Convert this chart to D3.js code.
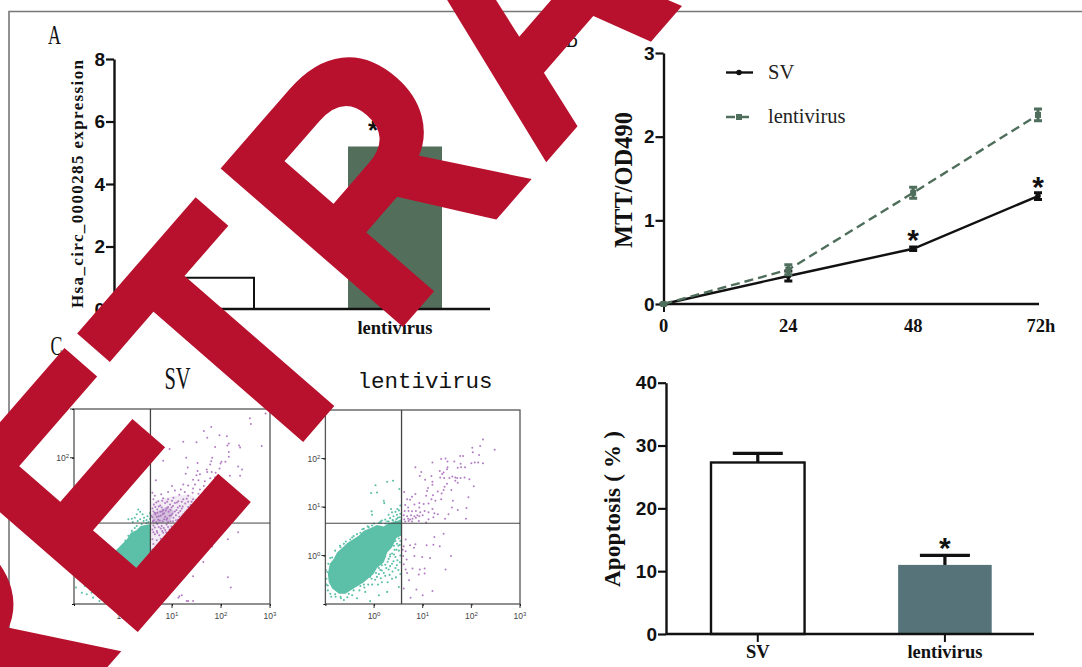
<!DOCTYPE html>
<html>
<head>
<meta charset="utf-8">
<title>Retracted figure</title>
<script src="https://cdnjs.cloudflare.com/ajax/libs/d3/7.8.5/d3.min.js"></script>
<style>
	html, body { margin: 0; padding: 0; background: #fff; overflow: hidden; }
	svg { display: block; }
	.domain, .tick line { stroke: #111; }
</style>
</head>
<body>
<div id="chart"></div>
<script>
"use strict";

// panel A
var expressionCategories = ["SV", "lentivirus"];
var expressionValues = [1, 5.2];
var expressionTicks = [0, 2, 4, 6, 8];

// panel B
var mttHours = [0, 24, 48, 72];
var mttSv = [0, 0.335, 0.66, 1.29];
var mttSvErr = [0, 0.06, 0.02, 0.04];
var mttLenti = [0, 0.41, 1.33, 2.26];
var mttLentiErr = [0, 0.06, 0.065, 0.07];
var mttTicks = [0, 1, 2, 3];
var mttStars = [[48, 0.66], [72, 1.29]];

// panel D
var apoptosisCategories = ["SV", "lentivirus"];
var apoptosisValues = [27.3, 11];
var apoptosisErrors = [1.45, 1.5];
var apoptosisTicks = [0, 10, 20, 30, 40];

var svGate = [0.56, 0.66];
var lentiGate = [0.565, 0.665];

var svDense = [[0.57, 0.64], [0.45, 0.62], [0.36, 0.6], [0.28, 0.52], [0.16, 0.46], [0.08, 0.33], [-0.15, 0.1], [-0.05, -0.3], [0.3, -0.4], [0.57, -0.2]];
var svPurpleCloud = [[0.58, 1.1], [0.95, 1.2], [1.35, 1.25], [1.6, 1.1], [1.45, 0.85], [1.2, 0.68], [1.0, 0.45], [0.85, 0.15], [0.6, -0.1], [0.58, 0.6]];
var svPurpleCore = [[0.6, 0.85], [0.9, 1.0], [1.05, 0.9], [0.95, 0.68], [0.6, 0.64]];
var svTeal = [[0.35, 0.89], [0.28, 0.84], [0.4, 0.84], [0.24, 0.77], [0.48, 0.72], [0.11, 0.74], [0.35, 0.74], [0.55, 0.75], [0.18, 0.75], [0.43, 0.77], [0.55, 0.86], [0.31, 0.94], [0.5, 0.8], [0.3, 0.7], [0.42, 0.7], [0.52, 0.68], [0.2, 0.68],
	[0.24, 0.56], [0.18, 0.5], [0.11, 0.4], [0.28, 0.6], [0.38, 0.64], [0.48, 0.66], [0.05, 0.3], [0.02, 0.22],
	[-0.93, -0.36], [-0.88, -0.44], [-0.96, -0.66], [-0.81, -0.49], [-0.78, -0.63], [-0.71, -0.55], [-0.67, -0.7], [-0.61, -0.64], [-0.64, -0.77], [-0.55, -0.73], [-0.5, -0.82], [-0.46, -0.7], [-0.4, -0.87], [-0.35, -0.77], [-0.3, -0.94], [-0.23, -0.9], [-0.74, -0.8], [-0.84, -0.77], [-0.61, -0.87], [-0.48, -0.94], [-0.37, -0.97], [-0.2, -0.97], [-0.91, -0.25], [-0.98, -0.19], [-0.67, -0.59], [-0.57, -0.56], [-0.52, -0.66], [-0.44, -0.78], [-0.27, -0.82], [-0.13, -0.96]];
var svPurple = [[2.91, 2.91], [2.59, 2.81], [2.61, 2.69], [1.8, 2.63], [1.65, 2.55], [1.97, 2.46], [2.12, 2.44], [1.72, 2.41], [1.23, 2.33], [1.5, 2.32], [2.16, 2.29], [2.13, 2.25], [2.37, 2.25], [1.88, 2.22], [2.39, 2.21], [2.83, 2.24], [0.95, 2.18], [2.16, 2.12], [2.16, 2.02], [1.29, 2], [1.82, 2], [0.82, 1.94], [1.8, 1.93], [2.01, 1.92], [2.09, 1.92], [1.52, 1.89], [1.78, 1.86], [1.99, 1.88], [2.35, 1.82], [2.43, 1.76], [1.32, 1.8], [1.71, 1.76], [1.97, 1.78], [1.52, 1.73], [1.72, 1.71], [1.81, 1.71], [1.89, 1.69], [1.28, 1.67], [1.57, 1.66], [2.18, 1.63], [2.39, 1.63], [1.88, 1.6], [1.5, 1.64], [1.43, 1.55], [1.54, 1.54], [1.67, 1.52], [1.78, 1.58], [0.67, 1.54], [1.93, 1.54], [1.23, 1.45], [1.33, 1.43], [1.47, 1.45], [1.65, 1.42], [1.78, 1.45], [1, 1.42], [1.43, 1.37], [1.57, 1.35], [1.18, 1.35], [1.67, 1.33], [1.06, 1.33], [0.6, 1.28], [0.92, 1.3], [1.26, 1.3], [1.42, 1.28], [1.54, 1.26], [0.78, 1.25], [0.65, 1.22], [1.15, 1.24], [1.33, 1.22], [1.67, 1.22],
	[0.62, 1.15], [0.72, 1.11], [0.82, 1.17], [0.92, 1.15], [1.03, 1.18], [1.13, 1.11], [1.23, 1.15], [1.33, 1.1], [1.43, 1.15], [1.56, 1.11],
	[0.63, 1.04], [0.76, 1.02], [0.86, 1.07], [0.96, 1.04], [1.06, 1.07], [1.16, 1.01], [1.27, 1.06], [1.38, 1.03], [1.49, 1.06], [1.61, 1.01],
	[0.6, 0.96], [0.7, 0.94], [0.79, 0.98], [0.89, 0.96], [0.99, 0.98], [1.09, 0.93], [1.2, 0.96], [1.3, 0.92], [1.42, 0.96], [1.54, 0.91],
	[0.65, 0.87], [0.76, 0.89], [0.84, 0.86], [0.93, 0.89], [1.01, 0.85], [1.13, 0.87], [1.23, 0.84], [1.35, 0.87],
	[0.58, 0.81], [0.69, 0.79], [0.77, 0.81], [0.86, 0.79], [0.95, 0.81], [1.03, 0.77], [1.15, 0.79], [1.27, 0.76], [1.38, 0.79],
	[0.63, 0.72], [0.72, 0.73], [0.81, 0.7], [0.89, 0.73], [0.97, 0.7], [1.08, 0.72], [1.2, 0.69], [1.3, 0.72],
	[0.62, 0.61], [0.7, 0.64], [0.79, 0.6], [0.89, 0.63], [0.99, 0.59], [1.1, 0.64], [1.2, 0.61],
	[0.6, 0.53], [0.69, 0.5], [0.77, 0.55], [0.86, 0.52], [0.95, 0.53], [1.03, 0.48], [1.11, 0.55],
	[0.65, 0.43], [0.74, 0.41], [0.82, 0.46], [0.9, 0.43], [0.99, 0.43], [0.6, 0.33], [0.69, 0.31], [0.77, 0.34], [0.86, 0.29], [0.93, 0.33],
	[0.62, 0.23], [0.7, 0.2], [0.79, 0.23], [0.86, 0.18], [0.6, 0.12], [0.67, 0.09], [0.75, 0.11], [0.62, 0.02], [0.7, 0], [0.63, -0.08],
	[2.14, -0.45], [2.2, -0.66], [1.43, -0.43], [1.64, -0.14], [2.14, 0.33], [2.35, 0.47], [1.15, -0.84], [1.33, -0.94], [1.43, -0.94], [1.82, 0.18], [1.13, -0.87], [1.2, -0.82], [1.3, -0.94],
	[0.68, 1.08], [0.8, 1.12], [0.9, 1.1], [1.0, 1.12], [1.1, 1.08], [1.2, 1.1], [1.3, 1.16], [1.4, 1.1], [1.5, 1.14], [0.66, 0.99], [0.73, 1.0], [0.82, 0.93], [0.92, 0.99], [1.02, 1.01], [1.12, 0.98], [1.22, 1.0], [1.33, 0.99], [1.46, 1.0], [0.62, 0.9], [0.7, 0.87], [0.8, 0.9], [0.87, 0.92], [0.97, 0.93], [1.06, 0.9], [1.17, 0.91], [1.27, 0.88], [1.4, 0.9], [0.6, 0.78], [0.66, 0.84], [0.73, 0.8], [0.81, 0.84], [0.9, 0.76], [0.98, 0.82], [1.08, 0.82], [1.2, 0.8], [0.61, 0.7], [0.68, 0.68], [0.75, 0.71], [0.84, 0.74], [0.92, 0.68], [1.02, 0.7], [1.12, 0.73], [0.65, 0.57], [0.73, 0.58], [0.83, 0.56], [0.92, 0.58], [1.05, 0.56], [0.62, 0.47], [0.7, 0.46], [0.8, 0.5], [0.88, 0.47], [0.97, 0.48]];

var lentiDense = [[-0.95, -0.38], [-0.91, -0.17], [-0.83, -0.07], [-0.76, 0.06], [-0.64, 0.17], [-0.55, 0.26], [-0.42, 0.34], [-0.31, 0.41], [-0.21, 0.51], [-0.08, 0.56], [0.06, 0.63], [0.2, 0.6], [0.3, 0.67], [0.44, 0.7], [0.56, 0.74], [0.56, 0.41], [0.46, 0.36], [0.37, 0.17], [0.27, 0.06], [0.2, -0.14], [0.06, -0.26], [-0.01, -0.38], [-0.21, -0.55], [-0.42, -0.68], [-0.59, -0.79], [-0.72, -0.79], [-0.86, -0.68], [-0.93, -0.55]];
var lentiTeal = [[0.03, 1.45], [0.39, 1.54], [-0.06, 1.29], [0.06, 1.3], [0.2, 1.13], [0.21, 1.08], [-0.05, 0.91], [-0.04, 0.84], [0.27, 1.52], [0.52, 1.37],
	[0.54, 1.03], [0.51, 0.93], [0.44, 0.9], [0.37, 0.89], [0.3, 0.84], [0.54, 0.86], [0.47, 0.84], [0.4, 0.81], [0.33, 0.77], [0.23, 0.74], [0.16, 0.72], [0.53, 0.79], [0.46, 0.75], [0.39, 0.72], [0.3, 0.7], [0.54, 0.72], [0.13, 0.7], [0.44, 0.7], [0.48, 0.96], [0.35, 0.96],
	[0.51, 0.35], [0.44, 0.3], [0.54, 0.3], [0.47, 0.24], [0.41, 0.2], [0.53, 0.22], [0.42, 0.12], [0.33, 0.02], [0.51, 0.1], [0.37, 0.04], [0.23, -0.02], [0.54, 0], [0.44, -0.03], [0.3, -0.07], [0.16, -0.2], [0.53, -0.14], [0.37, -0.17], [0.23, -0.19], [0.1, -0.26], [0.44, -0.26], [0.3, -0.29], [0.16, -0.31], [0.04, -0.36], [0.54, -0.38], [0.23, -0.42], [0.06, -0.44], [-0.08, -0.44], [0.37, -0.48], [-0.21, -0.6], [0.16, -0.55], [-0.04, -0.6], [-0.28, -0.63], [0.51, -0.65], [-0.42, -0.72], [-0.18, -0.75], [-0.52, -0.79], [-0.69, -0.85], [-0.79, -0.85], [-0.35, -0.88], [-0.9, -0.79], [0.27, -0.75], [0.1, -0.82], [-0.62, -0.92], [-0.08, -0.94],
	[-0.98, -0.48], [-0.95, -0.62], [-0.96, -0.34], [-0.94, -0.17], [-0.86, -0.04], [-0.62, 0.24], [-0.49, 0.33], [-0.28, 0.47], [-0.11, 0.58], [0.1, 0.67], [0.23, 0.66], [-0.69, 0.17], [-0.42, 0.4], [-0.21, 0.55], [-0.04, 0.62],
	[0.5, 0.2], [0.46, 0.12], [0.41, 0.02], [0.33, -0.02], [0.48, -0.1], [0.4, -0.12], [0.28, -0.13], [0.33, -0.22], [0.47, -0.2], [0.25, -0.26], [0.13, -0.3], [0.38, -0.33], [0.2, -0.36], [0.1, -0.38], [0.5, -0.3], [0.32, -0.4], [0.14, -0.47], [0.02, -0.5], [-0.05, -0.48], [0.45, -0.45], [0.28, -0.55], [0.08, -0.6], [-0.12, -0.6], [-0.2, -0.66], [-0.3, -0.72], [-0.45, -0.82], [-0.55, -0.86], [-0.68, -0.88], [-0.8, -0.8], [-0.88, -0.85], [-0.95, -0.72], [-0.98, -0.6], [-0.99, -0.3], [-0.9, -0.05], [-0.8, 0.1], [-0.7, 0.2], [-0.58, 0.29], [-0.45, 0.37], [-0.35, 0.44], [-0.24, 0.54], [-0.13, 0.6], [0, 0.66], [0.14, 0.67], [0.27, 0.7], [0.38, 0.73], [0.49, 0.78]];
var lentiPurple = [[2.24, 2.39], [2.18, 2.26], [2.02, 2.22], [2.03, 2.13], [2.48, 2.18], [2.16, 2.07], [1.77, 2.05], [1.83, 2.05], [1.38, 1.99], [1.47, 2], [1.51, 1.94], [1.65, 1.94], [1.2, 1.92], [2, 1.9], [2.07, 1.92], [2.14, 1.92], [2.24, 1.9], [1.78, 1.89], [0.85, 1.82], [1.72, 1.81], [1.79, 1.82], [1.87, 1.82], [1.51, 1.82], [1.5, 1.78], [1.35, 1.74], [1.43, 1.71], [1.4, 1.68], [0.97, 1.72], [0.94, 1.64], [1.18, 1.64], [1.36, 1.61], [1.44, 1.6], [1.55, 1.6], [1.61, 1.63], [1.67, 1.61], [1.71, 1.6], [1.78, 1.6], [1.86, 1.61], [1.96, 1.57], [1.05, 1.56], [1.2, 1.52], [1.67, 1.54], [1.72, 1.5], [1.2, 1.46], [1.5, 1.48], [1.45, 1.42], [2.05, 1.43], [1.11, 1.39], [1.09, 1.33], [1.31, 1.32], [1.39, 1.28], [1.43, 1.35], [1.59, 1.35], [0.62, 1.31], [0.85, 1.27], [1.07, 1.23], [1.21, 1.24], [1.94, 1.2], [0.78, 1.21], [0.68, 1.16], [0.74, 1.15], [1.18, 1.16], [1.26, 1.13], [1.38, 1.16], [1.62, 1.13], [0.93, 1.08], [1.02, 1.06], [1.12, 1.07], [0.64, 1.04], [0.83, 1.05], [1.6, 0.99], [1.9, 0.98], [1.72, 0.94], [0.7, 0.99], [1.2, 0.96], [0.93, 0.99],
	[0.63, 0.92], [0.71, 0.92], [0.78, 0.91], [0.86, 0.92], [0.95, 0.89], [1.04, 0.92], [1.12, 0.89], [1.24, 0.87], [1.31, 0.85], [1.53, 0.85], [0.61, 0.83], [0.68, 0.81], [0.76, 0.83], [0.83, 0.81], [0.89, 0.83], [0.93, 0.81], [1, 0.83], [1.22, 0.79], [1.46, 0.76], [1.89, 0.76], [0.62, 0.75], [0.7, 0.76], [0.74, 0.74], [0.79, 0.76], [0.86, 0.78], [1.12, 0.75], [0.64, 0.7], [0.71, 0.71], [0.78, 0.7], [0.92, 0.71], [1.07, 0.68],
	[1.43, 0.45], [1.24, 0.38], [1.35, 0.19], [1.22, 0.22], [1.08, 0.21], [0.85, 0.23], [0.74, 0.21], [0.65, 0.33], [0.61, 0.19], [0.65, 0.09], [0.83, -0.01], [0.99, -0.03], [1.15, -0.05], [1.58, -0.01], [1.47, -0.29], [1.04, -0.27], [0.94, -0.29], [0.79, -0.27], [0.68, -0.36], [0.61, -0.18], [1.04, -0.37], [0.92, -0.39], [0.72, -0.51], [0.61, -0.68], [0.87, -0.7], [1.2, -0.73], [1, -0.82], [0.75, -0.87], [0.65, -0.29], [0.67, -0.08], [0.59, 0.12], [0.6, -0.01], [0.82, 0.16]];

var flowDecades = [-1, 0, 1, 2, 3];

var serif = "'Liberation Serif', serif";
var sans = "'Liberation Sans', sans-serif";
var mono = "'Liberation Mono', monospace";
var red = "#b8112e";
var purple = "#a565b8";
var teal = "#5cbfa8";

var svg = d3.select("#chart").append("svg")
	.attr("width", 1082)
	.attr("height", 667);

// the frame round the figure
svg.append("path")
	.attr("d", "M9,667V11.5H1082")
	.attr("fill", "none")
	.attr("stroke", "#777")
	.attr("stroke-width", 1.6);

function label(x, y, text, family, size, weight, rotate) {
	return svg.append("text")
		.attr("transform", "translate(" + x + "," + y + ")" + (rotate ? " rotate(" + rotate + ")" : ""))
		.attr("text-anchor", "middle")
		.attr("font-family", family)
		.attr("font-size", size)
		.attr("font-weight", weight || "normal")
		.attr("fill", "#111")
		.text(text);
}

// the narrow serif used for panel letters, squeezed Liberation Serif is the nearest thing
function narrowLabel(x, y, text, size) {
	svg.append("text")
		.attr("transform", "translate(" + x + "," + y + ") scale(0.66,1)")
		.attr("text-anchor", "middle")
		.attr("font-family", serif)
		.attr("font-size", size)
		.attr("fill", "#111")
		.text(text);
}

// y axis + baseline, shared by the three graph panels
function leftAxis(y, x, ticks) {
	var g = svg.append("g")
		.attr("transform", "translate(" + x + ",0)")
		.call(d3.axisLeft(y).tickValues(ticks).tickFormat(d3.format("d")).tickSize(8).tickSizeOuter(0).tickPadding(1));
	g.select(".domain").attr("stroke-width", 2.4);
	g.selectAll(".tick line").attr("stroke-width", 2.2);
	g.selectAll(".tick text")
		.attr("font-family", sans)
		.attr("font-size", 19)
		.attr("font-weight", "bold")
		.attr("fill", "#111");
	return g;
}

function baseline(x0, x1, y) {
	svg.append("line")
		.attr("x1", x0).attr("x2", x1)
		.attr("y1", y).attr("y2", y)
		.attr("stroke", "#111")
		.attr("stroke-width", 2.4);
}

function errorBar(x, yLow, yHigh, halfCap, color, width) {
	svg.append("path")
		.attr("d", "M" + x + "," + yLow + "V" + yHigh + "M" + (x - halfCap) + "," + yHigh + "H" + (x + halfCap))
		.attr("stroke", color)
		.attr("stroke-width", width)
		.attr("fill", "none");
}

/* ---- A ---- */
narrowLabel(54.5, 44, "A", 27);
var yA = d3.scaleLinear().domain([0, 8]).range([309, 59]);
var xA = d3.scaleBand().domain(expressionCategories).range([160, 442]).paddingInner(0.5);
svg.selectAll(".barA")
	.data(expressionValues)
	.enter().append("rect")
	.attr("x", function (d, i) { return xA(expressionCategories[i]); })
	.attr("y", function (d) { return yA(d); })
	.attr("width", xA.bandwidth())
	.attr("height", function (d) { return yA(0) - yA(d); })
	.attr("fill", function (d, i) { return i ? "#546e5c" : "#fff"; })
	.attr("stroke", function (d, i) { return i ? "none" : "#111"; })
	.attr("stroke-width", 2);
leftAxis(yA, 114, expressionTicks);
baseline(114, 490, 309);
label(83, 184, "Hsa_circ_0000285 expression", serif, 17, "bold", -90).attr("textLength", 248);
label(xA("lentivirus") + xA.bandwidth() / 2, 334, "lentivirus", serif, 18.5, "bold");
label(xA("SV") + xA.bandwidth() / 2, 334, "SV", serif, 18.5, "bold");
label(373, 139, "*", sans, 26, "bold");
narrowLabel(572, 47, "B", 27);

/* ---- B ---- */
var xB = d3.scaleLinear().domain([0, 72]).range([663.5, 1038]);
var yB = d3.scaleLinear().domain([0, 3]).range([304, 53]);
leftAxis(yB, 663.5, mttTicks);
baseline(663.5, 1039, 304);

var bottomB = svg.append("g")
	.attr("transform", "translate(0,304)")
	.call(d3.axisBottom(xB).tickValues([0]).tickSize(8).tickSizeOuter(0).tickFormat(""));
bottomB.select(".domain").remove();
bottomB.selectAll(".tick line").attr("stroke-width", 2);
mttHours.forEach(function (h) {
	label(xB(h) + (h === 72 ? 3 : 0), 332, h === 72 ? "72h" : h, serif, 18.5, "bold");
});
label(632, 180, "MTT/OD490", serif, 24.5, "bold", -90);

var lineB = d3.line()
	.x(function (d, i) { return xB(mttHours[i]); })
	.y(function (d) { return yB(d); });

function mttMarker(x, y, color, square) {
	if (square) {
		svg.append("rect").attr("x", x - 3).attr("y", y - 3).attr("width", 6).attr("height", 6).attr("fill", color);
	} else {
		svg.append("circle").attr("cx", x).attr("cy", y).attr("r", 2.8).attr("fill", color);
	}
}

function mttSeries(values, errs, color, dash, square) {
	svg.append("path")
		.attr("d", lineB(values))
		.attr("fill", "none")
		.attr("stroke", color)
		.attr("stroke-width", 2.4)
		.attr("stroke-dasharray", dash);
	values.forEach(function (v, i) {
		var x = xB(mttHours[i]);
		svg.append("path")
			.attr("d", "M" + x + "," + yB(v - errs[i]) + "V" + yB(v + errs[i])
				+ "M" + (x - 4) + "," + yB(v - errs[i]) + "H" + (x + 4)
				+ "M" + (x - 4) + "," + yB(v + errs[i]) + "H" + (x + 4))
			.attr("stroke", color)
			.attr("stroke-width", 3)
			.attr("fill", "none");
		mttMarker(x, yB(v), color, square);
	});
}
mttSeries(mttSv, mttSvErr, "#111", null, false);
mttSeries(mttLenti, mttLentiErr, "#4f6f5c", "9,5", true);

mttStars.forEach(function (s) {
	label(xB(s[0]), yB(s[1]) + 1, "*", sans, 30, "bold");
});

// legend
var legend = [["SV", "#111", null, 72.5, false], ["lentivirus", "#4f6f5c", "9,5", 117, true]];
legend.forEach(function (l) {
	svg.append("line")
		.attr("x1", 726).attr("x2", 753).attr("y1", l[3]).attr("y2", l[3])
		.attr("stroke", l[1]).attr("stroke-width", 2.4).attr("stroke-dasharray", l[2]);
	mttMarker(739, l[3], l[1], l[4]);
	svg.append("text")
		.attr("x", 768).attr("y", l[3] + 6)
		.attr("font-family", serif)
		.attr("font-size", 20.5)
		.attr("fill", "#222")
		.text(l[0]);
});

/* ---- C ---- */
narrowLabel(56.5, 355, "C", 27);
narrowLabel(177.5, 389, "SV", 31);
label(425, 388, "lentivirus", mono, 22.5);

function flowPanel(x0, x1, y0, y1, gate, dense, tealDots, purpleDots, clouds) {
	var x = d3.scaleLog().domain([0.1, 1000]).range([x0, x1]);
	var y = d3.scaleLog().domain([0.1, 1000]).range([y0, y1]);
	var xy = function (d) { return [x(Math.pow(10, d[0])), y(Math.pow(10, d[1]))]; };
	var outline = d3.line()
		.x(function (d) { return xy(d)[0]; })
		.y(function (d) { return xy(d)[1]; })
		.curve(d3.curveLinearClosed);

	svg.append("path")
		.attr("d", outline(dense))
		.attr("fill", teal);

	clouds.forEach(function (c) {
		svg.append("path")
			.attr("d", outline(c[0]))
			.attr("fill", "#7d3f96")
			.attr("fill-opacity", c[1]);
	});

	function dots(list, color, r, op) {
		svg.append("g").selectAll("circle")
			.data(list)
			.enter().append("circle")
			.attr("cx", function (d) { return xy(d)[0]; })
			.attr("cy", function (d) { return xy(d)[1]; })
			.attr("r", r)
			.attr("fill", color)
			.attr("fill-opacity", op);
	}
	dots(tealDots, teal, 1.05, 1);
	dots(purpleDots, purple, 1, 0.85);

	// box
	svg.append("rect")
		.attr("x", x0).attr("y", y1)
		.attr("width", x1 - x0).attr("height", y0 - y1)
		.attr("fill", "none")
		.attr("stroke", "#555")
		.attr("stroke-width", 1.3);

	// quadrant gate
	var gx = x(Math.pow(10, gate[0])), gy = y(Math.pow(10, gate[1]));
	svg.append("line").attr("x1", gx).attr("x2", gx).attr("y1", y0).attr("y2", y1).attr("stroke", "#444").attr("stroke-width", 1.3);
	svg.append("line").attr("x1", x0).attr("x2", x1).attr("y1", gy).attr("y2", gy).attr("stroke", "#444").attr("stroke-width", 1);

	// log ticks with the small minor ones
	var axisX = d3.axisBottom(x).ticks(4).tickSize(2).tickSizeOuter(0).tickFormat("");
	var axisY = d3.axisLeft(y).ticks(4).tickSize(2).tickSizeOuter(0).tickFormat("");
	var gX = svg.append("g").attr("transform", "translate(0," + y0 + ")").call(axisX);
	var gY = svg.append("g").attr("transform", "translate(" + x0 + ",0)").call(axisY);
	gX.selectAll(".tick line").attr("stroke", "#555");
	gY.selectAll(".tick line").attr("stroke", "#555");
	gX.select(".domain").remove();
	gY.select(".domain").remove();

	flowDecades.forEach(function (p) {
		if (p < 0) return;
		var v = Math.pow(10, p);
		svg.append("line").attr("x1", x(v)).attr("x2", x(v)).attr("y1", y0).attr("y2", y0 + 4).attr("stroke", "#333");
		var tx = svg.append("text").attr("x", x(v)).attr("y", y0 + 15)
			.attr("text-anchor", "middle").attr("font-family", sans).attr("font-size", 8.5).attr("fill", "#444");
		tx.append("tspan").text("10");
		tx.append("tspan").attr("dy", -3).attr("font-size", 6).text(p);

		if (p === 3 && x0 > 100) return;
		svg.append("line").attr("x1", x0 - 4).attr("x2", x0).attr("y1", y(v)).attr("y2", y(v)).attr("stroke", "#333");
		var ty = svg.append("text").attr("x", x0 - 5).attr("y", y(v) + 3)
			.attr("text-anchor", "end").attr("font-family", sans).attr("font-size", 8.5).attr("fill", "#444");
		ty.append("tspan").text("10");
		ty.append("tspan").attr("dy", -3).attr("font-size", 6).text(p);
	});
}
flowPanel(74, 270, 604, 409, svGate, svDense, svTeal, svPurple, [[svPurpleCloud, 0.1], [svPurpleCore, 0.25]]);
flowPanel(325.4, 520, 604, 410, lentiGate, lentiDense, lentiTeal, lentiPurple, []);

/* ---- D ---- */
var yD = d3.scaleLinear().domain([0, 40]).range([634, 382.7]);
var xD = d3.scaleBand().domain(apoptosisCategories).range([711, 991.7]).paddingInner(0.5);
var xDc = function (c) { return xD(c) + xD.bandwidth() / 2; };
apoptosisValues.forEach(function (v, i) {
	var c = apoptosisCategories[i];
	errorBar(xDc(c), yD(v) + 2, yD(v + apoptosisErrors[i]), 25, "#111", 3.2);
	svg.append("rect")
		.attr("x", xD(c))
		.attr("y", yD(v))
		.attr("width", xD.bandwidth())
		.attr("height", yD(0) - yD(v))
		.attr("fill", i ? "#557378" : "#fff")
		.attr("stroke", i ? "none" : "#111")
		.attr("stroke-width", 2.4);
	svg.append("line")
		.attr("x1", xDc(c)).attr("x2", xDc(c)).attr("y1", yD(0)).attr("y2", yD(0) + 8)
		.attr("stroke", "#111").attr("stroke-width", 2);
	label(xDc(c), 658, c, serif, 18.5, "bold");
});
leftAxis(yD, 666, apoptosisTicks);
baseline(666, 1034, 634);
label(xDc("lentivirus"), 558, "*", sans, 30, "bold");
label(620, 509, "Apoptosis ( % )", serif, 23, "bold", -90).attr("textLength", 156);

/* ---- retraction stamp goes over everything ---- */
svg.append("text")
	.attr("transform", "translate(-21,811) rotate(-49) scale(0.87,1)")
	.attr("font-family", sans)
	.attr("font-weight", "bold")
	.attr("font-size", 344)
	.attr("dx", "0 6 3 22 18 15 15 15 15")
	.attr("fill", red)
	.attr("stroke", red)
	.attr("stroke-width", 5)
	.text("RETRACTED");
</script>
</body>
</html>
